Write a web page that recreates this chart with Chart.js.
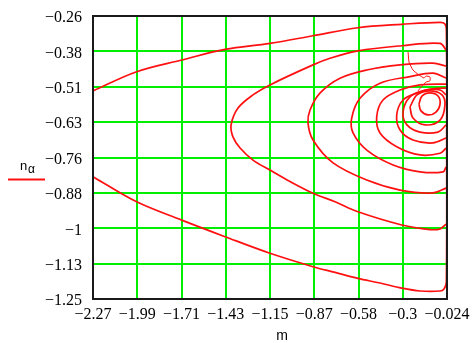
<!DOCTYPE html>
<html>
<head>
<meta charset="utf-8">
<script src="https://cdn.jsdelivr.net/npm/chart.js@4.4.1/dist/chart.umd.min.js"></script>
<style>
  html, body { margin: 0; padding: 0; background: #fff; }
</style>
</head>
<body>
<canvas id="plot" width="472" height="343"></canvas>
<script>
// axis grid positions and their printed labels
var mGrid = [-2.27, -1.989, -1.708, -1.428, -1.147, -0.866, -0.585, -0.305, -0.024];
var mLabels = ['\u22122.27', '\u22121.99', '\u22121.71', '\u22121.43', '\u22121.15', '\u22120.87', '\u22120.58', '\u22120.3', '\u22120.024'];
var nGrid = [-0.26, -0.384, -0.508, -0.631, -0.755, -0.879, -1.003, -1.126, -1.25];
var nLabels = ['\u22120.26', '\u22120.38', '\u22120.51', '\u22120.63', '\u22120.76', '\u22120.88', '\u22121', '\u22121.13', '\u22121.25'];

// trajectories in the (m, n_alpha) plane, [m, n]
var orbitA = [[-2.270,-0.522],[-1.993,-0.455],[-1.707,-0.414],[-1.432,-0.377],[-1.147,-0.356],[-0.874,-0.329],
  [-0.589,-0.301],[-0.311,-0.289],[-0.068,-0.282],[-0.037,-0.288],[-0.028,-0.31],[-0.026,-0.70],[-0.028,-1.19],
  [-0.043,-1.215],[-0.068,-1.222],[-0.195,-1.222],[-0.311,-1.212],[-0.449,-1.194],[-0.589,-1.178],[-0.734,-1.157],
  [-0.874,-1.137],[-1.147,-1.090],[-1.432,-1.032],[-1.707,-0.974],[-1.993,-0.910],[-2.270,-0.822]];
var orbitB = [[-0.030,-0.379],[-0.068,-0.356],[-0.311,-0.364],[-0.589,-0.382],[-0.766,-0.408],[-0.874,-0.431],
  [-1.147,-0.501],[-1.255,-0.536],[-1.350,-0.582],[-1.394,-0.641],[-1.382,-0.683],[-1.337,-0.722],[-1.255,-0.764],
  [-1.147,-0.799],[-1.020,-0.839],[-0.874,-0.880],[-0.734,-0.910],[-0.589,-0.945],[-0.311,-0.991],[-0.132,-1.007],
  [-0.068,-1.005],[-0.030,-0.988]];
var orbitC = [[-0.030,-0.435],[-0.113,-0.425],[-0.322,-0.431],[-0.533,-0.449],[-0.703,-0.478],[-0.830,-0.530],
  [-0.893,-0.589],[-0.906,-0.634],[-0.874,-0.694],[-0.747,-0.774],[-0.533,-0.834],[-0.322,-0.869],[-0.113,-0.879],
  [-0.030,-0.862]];
var orbitD = [[-0.030,-0.477],[-0.113,-0.460],[-0.259,-0.472],[-0.449,-0.495],[-0.576,-0.548],[-0.629,-0.618],
  [-0.620,-0.669],[-0.533,-0.729],[-0.366,-0.781],[-0.195,-0.805],[-0.049,-0.805],[-0.030,-0.788]];
var orbitE = [[-0.030,-0.498],[-0.195,-0.501],[-0.322,-0.519],[-0.430,-0.554],[-0.470,-0.612],[-0.449,-0.669],
  [-0.343,-0.717],[-0.195,-0.746],[-0.068,-0.740],[-0.030,-0.722]];
var orbitF = [[-0.030,-0.512],[-0.113,-0.515],[-0.216,-0.530],[-0.303,-0.554],[-0.343,-0.606],[-0.322,-0.659],
  [-0.240,-0.694],[-0.113,-0.704],[-0.030,-0.687]];
var orbitG = [[-0.030,-0.536],[-0.068,-0.519],[-0.163,-0.519],[-0.259,-0.543],[-0.303,-0.596],[-0.278,-0.641],
  [-0.195,-0.666],[-0.081,-0.666],[-0.030,-0.641]];
var orbitH = [[-0.259,-0.578],[-0.214,-0.536],[-0.132,-0.522],[-0.056,-0.536],[-0.037,-0.571],[-0.068,-0.624],
  [-0.163,-0.641],[-0.240,-0.617],[-0.259,-0.578]];
var orbitI = [[-0.202,-0.568],[-0.183,-0.540],[-0.132,-0.529],[-0.081,-0.540],[-0.068,-0.568],[-0.094,-0.596],
  [-0.144,-0.606],[-0.189,-0.592],[-0.202,-0.568]];
// thin branch coming down into the focus
var branch = [[-0.271,-0.386],[-0.265,-0.421],[-0.240,-0.449],[-0.202,-0.466],[-0.170,-0.477],[-0.157,-0.470],
  [-0.132,-0.473],[-0.132,-0.487],[-0.157,-0.491],[-0.183,-0.505],[-0.208,-0.522]];

function trace(pts, width, tension) {
  return {
    data: pts.map(function(p) { return { x: p[0], y: p[1] }; }),
    showLine: true,
    borderColor: '#ff1010',
    borderWidth: width,
    pointRadius: 0,
    tension: tension,
    fill: false
  };
}

var datasets = [orbitA, orbitB, orbitC, orbitD, orbitE, orbitF, orbitG, orbitH, orbitI].map(function(o) {
  return trace(o, 1.7, 0.35);
});
datasets.push(trace(branch, 1, 0.15));

// box around the plot plus the axis names
var framePlugin = {
  id: 'frame',
  afterDatasetsDraw: function(chart) {
    var a = chart.chartArea, ctx = chart.ctx;
    ctx.save();
    ctx.strokeStyle = '#1a1a1a';
    ctx.lineWidth = 2;
    ctx.strokeRect(a.left, a.top, a.right - a.left, a.bottom - a.top);

    ctx.fillStyle = '#000';
    ctx.textBaseline = 'alphabetic';
    ctx.font = '13px "Liberation Sans"';
    ctx.fillText('n', 20, 170);
    ctx.font = '12px "Liberation Sans"';
    ctx.fillText('\u03b1', 28, 173);
    ctx.strokeStyle = '#ff1010';
    ctx.lineWidth = 2;
    ctx.beginPath();
    ctx.moveTo(8, 179.5);
    ctx.lineTo(45, 179.5);
    ctx.stroke();

    ctx.font = '14px "Liberation Sans"';
    ctx.textAlign = 'center';
    ctx.fillText('m', 282, 340);
    ctx.restore();
  }
};

var tickFont = { family: '"Liberation Serif", "Times New Roman", serif', size: 16 };

new Chart(document.getElementById('plot'), {
  type: 'scatter',
  data: { datasets: datasets },
  options: {
    responsive: false,
    animation: false,
    layout: { padding: { top: 16, right: 25, left: 0, bottom: 0 } },
    plugins: { legend: { display: false }, tooltip: { enabled: false } },
    scales: {
      x: {
        type: 'linear',
        min: -2.27,
        max: -0.024,
        afterBuildTicks: function(axis) {
          axis.ticks = mGrid.map(function(v) { return { value: v }; });
        },
        afterFit: function(axis) {
          axis.height = 44;
          axis.paddingLeft = 0;
          axis.paddingRight = 0;
        },
        ticks: {
          autoSkip: false,
          maxRotation: 0,
          padding: 6,
          color: '#000',
          font: tickFont,
          callback: function(v, i) { return mLabels[i]; }
        },
        grid: { color: '#00ee00', lineWidth: 2, drawTicks: false },
        border: { display: false }
      },
      y: {
        type: 'linear',
        min: -1.25,
        max: -0.26,
        afterBuildTicks: function(axis) {
          axis.ticks = nGrid.map(function(v) { return { value: v }; });
        },
        afterFit: function(axis) {
          axis.width = 93;
          axis.paddingTop = 0;
          axis.paddingBottom = 0;
        },
        ticks: {
          autoSkip: false,
          padding: 11,
          labelOffset: 2,
          color: '#000',
          font: tickFont,
          callback: function(v, i) { return nLabels[i]; }
        },
        grid: { color: '#00ee00', lineWidth: 2, drawTicks: false },
        border: { display: false }
      }
    }
  },
  plugins: [framePlugin]
});
</script>
</body>
</html>
